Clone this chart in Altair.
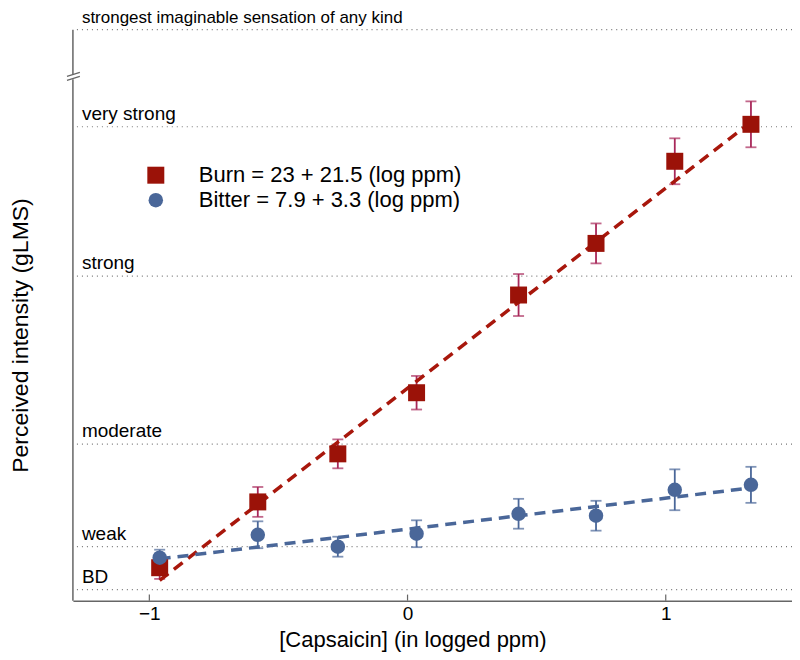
import altair as alt
import pandas as pd

# ---- data ----
conc = [-0.96, -0.58, -0.27, 0.035, 0.43, 0.73, 1.035, 1.33]
burn = [3.75, 10.8, 15.95, 22.5, 32.97, 38.5, 47.3, 51.26]
burn_se = [1.2, 1.6, 1.55, 1.8, 2.25, 2.14, 2.46, 2.46]
bitter = [4.82, 7.28, 6.0, 7.39, 9.53, 9.32, 12.1, 12.63]
bitter_se = [0.86, 1.44, 1.07, 1.44, 1.6, 1.6, 2.19, 1.93]

fit_x = [-0.96, 1.33]
burn_fit = [2.4, 51.5]
bitter_fit = [4.7, 12.3]

level_names = ["BD", "weak", "moderate", "strong", "very strong"]
level_values = [1.4, 6, 17, 35, 51]
top_name = ["strongest imaginable sensation of any kind"]
top_value = [61.4]

x_ticks = [-1, 0, 1]
burn_label = "Burn = 23 + 21.5 (log ppm)"
bitter_label = "Bitter = 7.9 + 3.3 (log ppm)"

X_DOM = [-1.296, 1.489]
Y_DOM = [0.22, 63.68]
break_gap = [56.1, 56.6]

BURN = "#9b1208"
BURN_LINE = "#a8170c"
BURN_ERR = "#a8285a"
BITTER = "#4a6799"
GRID = "#777777"
AXIS = "#666666"
FONT = "Liberation Sans"

xs = alt.Scale(domain=X_DOM, nice=False, zero=False)
ys = alt.Scale(domain=Y_DOM, nice=False, zero=False)

# ---- tables ----
grid_df = pd.DataFrame({"name": level_names + top_name, "y": level_values + top_value})
lab_df = pd.DataFrame({"name": level_names, "y": level_values})
top_df = pd.DataFrame({"name": top_name, "y": top_value})

axis_df = pd.DataFrame({
    "x": [X_DOM[0], X_DOM[0]],
    "y": [Y_DOM[0], break_gap[1]],
    "y2": [break_gap[0], top_value[0]],
})
brk_df = pd.DataFrame({
    "x": [-1.319, -1.319], "x2": [-1.269, -1.269],
    "y": [56.40, 55.97], "y2": [56.83, 56.40],
})
tick_df = pd.DataFrame({"x": x_ticks, "y": [Y_DOM[0]] * 3, "y2": [Y_DOM[0] + 0.65] * 3})

burn_df = pd.DataFrame({"x": conc, "y": burn,
                        "lo": [v - e for v, e in zip(burn, burn_se)],
                        "hi": [v + e for v, e in zip(burn, burn_se)]})
bitter_df = pd.DataFrame({"x": conc, "y": bitter,
                          "lo": [v - e for v, e in zip(bitter, bitter_se)],
                          "hi": [v + e for v, e in zip(bitter, bitter_se)]})
burn_fit_df = pd.DataFrame({"x": fit_x, "y": burn_fit})
bitter_fit_df = pd.DataFrame({"x": fit_x, "y": bitter_fit})

pts_df = pd.concat([
    pd.DataFrame({"x": conc, "y": burn, "series": burn_label}),
    pd.DataFrame({"x": conc, "y": bitter, "series": bitter_label}),
], ignore_index=True)

# ---- layers ----
x_main = alt.X("x:Q", scale=xs, axis=alt.Axis(
    values=x_ticks, format="d", ticks=False, grid=False, domainColor=AXIS, domainWidth=1.5,
    labelFontSize=19, labelPadding=4, labelColor="black",
    title="[Capsaicin] (in logged ppm)", titleFontSize=22, titleFontWeight="normal",
    titleColor="black", titleX=340, titleY=39, titleBaseline="middle"))
y_main = alt.Y("y:Q", scale=ys, axis=alt.Axis(
    labels=False, ticks=False, domain=False, grid=False,
    title="Perceived intensity (gLMS)", titleFontSize=23, titleFontWeight="normal",
    titleColor="black", titleX=-52, titleY=327, titleBaseline="middle", titleAngle=-90))

grid = alt.Chart(grid_df).mark_rule(color=GRID, strokeDash=[1, 4], strokeWidth=1.2).encode(
    y=alt.Y("y:Q", scale=ys))
labels = alt.Chart(lab_df).mark_text(align="left", baseline="alphabetic", dy=-7,
                                     fontSize=19, color="black").encode(
    x=alt.value(9), y=alt.Y("y:Q", scale=ys), text="name:N")
top_label = alt.Chart(top_df).mark_text(align="left", baseline="alphabetic", dy=-7,
                                        fontSize=17, color="black").encode(
    x=alt.value(9), y=alt.Y("y:Q", scale=ys), text="name:N")

axis_line = alt.Chart(axis_df).mark_rule(color=AXIS, strokeWidth=1.5).encode(
    x=alt.X("x:Q", scale=xs), y=alt.Y("y:Q", scale=ys), y2="y2:Q")
brk = alt.Chart(brk_df).mark_rule(color=AXIS, strokeWidth=1.2).encode(
    x=alt.X("x:Q", scale=xs), x2="x2:Q", y=alt.Y("y:Q", scale=ys), y2="y2:Q")
xticks = alt.Chart(tick_df).mark_rule(color=AXIS, strokeWidth=1.2).encode(
    x=alt.X("x:Q", scale=xs), y=alt.Y("y:Q", scale=ys), y2="y2:Q")


def errbars(df, color):
    bar = alt.Chart(df).mark_rule(color=color, strokeWidth=1.8).encode(
        x=alt.X("x:Q", scale=xs), y=alt.Y("lo:Q", scale=ys), y2="hi:Q")
    cap_hi = alt.Chart(df).mark_tick(color=color, orient="horizontal", size=11, thickness=1.8).encode(
        x=alt.X("x:Q", scale=xs), y=alt.Y("hi:Q", scale=ys))
    cap_lo = alt.Chart(df).mark_tick(color=color, orient="horizontal", size=11, thickness=1.8).encode(
        x=alt.X("x:Q", scale=xs), y=alt.Y("lo:Q", scale=ys))
    return bar + cap_hi + cap_lo


burn_err = errbars(burn_df, BURN_ERR)
bitter_err = errbars(bitter_df, BITTER)

burn_fit_line = alt.Chart(burn_fit_df).mark_line(color=BURN_LINE, strokeWidth=3.5,
                                                 strokeDash=[11, 7]).encode(
    x=alt.X("x:Q", scale=xs), y=alt.Y("y:Q", scale=ys))
bitter_fit_line = alt.Chart(bitter_fit_df).mark_line(color=BITTER, strokeWidth=3.5,
                                                     strokeDash=[11, 7]).encode(
    x=alt.X("x:Q", scale=xs), y=alt.Y("y:Q", scale=ys))

leg = alt.Legend(orient="none", legendX=72, legendY=156, title=None, labelFontSize=22,
                 labelColor="black", symbolSize=270, labelOffset=32, rowPadding=3,
                 padding=0, symbolStrokeWidth=0, labelFont=FONT, labelLimit=0)
dom = [burn_label, bitter_label]
points = alt.Chart(pts_df).mark_point(filled=True, opacity=1, strokeWidth=0).encode(
    x=x_main, y=y_main,
    color=alt.Color("series:N", scale=alt.Scale(domain=dom, range=[BURN, BITTER]), legend=leg),
    shape=alt.Shape("series:N", scale=alt.Scale(domain=dom, range=["square", "circle"]), legend=leg),
    size=alt.Size("series:N", scale=alt.Scale(domain=dom, range=[289, 210]), legend=None),
)

chart = alt.layer(
    grid, labels, top_label, axis_line, brk, xticks,
    bitter_err, burn_err, burn_fit_line, bitter_fit_line, points,
).properties(
    width=720, height=593,
    autosize=alt.AutoSizeParams(type="none"),
    padding={"left": 65, "top": 0, "right": 0, "bottom": 51},
).configure(font=FONT).configure_view(stroke=None)

chart.save("out.html", embed_options={"renderer": "svg", "actions": False})
